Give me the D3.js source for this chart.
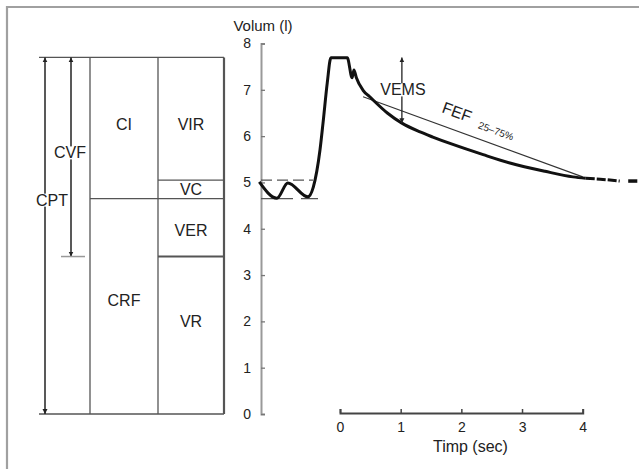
<!DOCTYPE html>
<html>
<head>
<meta charset="utf-8">
<script src="https://cdn.jsdelivr.net/npm/d3@7"></script>
<style>
  html, body { margin: 0; padding: 0; background: #fff; }
  svg { display: block; font-family: Arial, "Liberation Sans", sans-serif; }
</style>
</head>
<body>
<div id="chart"></div>
<script>
// ---- data (litres / seconds) ----
const VOL_TICKS = [0, 1, 2, 3, 4, 5, 6, 7, 8];
const TIME_TICKS = [0, 1, 2, 3, 4];

// lung volume levels
const TLC = 7.7, END_INSP = 5.05, FRC = 4.65, RV = 3.4;

// spirogram: tidal breathing then forced expiration
const curveT = [-1.33, -1.04, -0.86, -0.53, -0.44, -0.33, -0.28, -0.21, -0.15, 0.12, 0.20, 0.23, 0.27, 0.38, 0.49, 0.78, 1.02, 1.32, 1.53, 1.86, 2.36, 2.80, 3.38, 3.84, 4.05];
const curveV = [5.01, 4.66, 4.99, 4.69, 4.90, 5.70, 6.28, 7.15, 7.69, 7.69, 7.26, 7.43, 7.26, 6.99, 6.85, 6.50, 6.28, 6.09, 5.98, 5.82, 5.60, 5.42, 5.24, 5.12, 5.09];
// dashed tail of the curve
const tailT = [4.05, 4.29, 4.61];
const tailV = [5.09, 5.07, 5.03];
const tailEndT = [4.75, 4.9];
const tailEndV = [5.03, 5.03];

// FEF 25-75% chord and VEMS arrow
const fefT = [0.38, 4.0];
const fefV = [6.85, 5.12];
const vemsT = 1.02;
const vemsV = [TLC, 6.28];

// box diagram labels: [name, column, volume]
const boxLabels = [
  ["CI", 0, 6.26], ["VIR", 1, 6.26], ["VC", 1, 4.84], ["VER", 1, 3.97],
  ["CRF", 0, 2.46], ["VR", 1, 2.01]
];

// ---- layout ----
const W = 639, H = 469;
const ink = "#222", boxInk = "#555";

const svg = d3.select("#chart").append("svg")
  .attr("width", W).attr("height", H);

const defs = svg.append("defs");
defs.append("marker")
  .attr("id", "arr")
  .attr("viewBox", "0 0 10 10")
  .attr("refX", 10).attr("refY", 5)
  .attr("markerWidth", 5).attr("markerHeight", 6)
  .attr("markerUnits", "userSpaceOnUse")
  .attr("orient", "auto-start-reverse")
  .append("path").attr("d", "M0,0 L10,5 L0,10 Z").attr("fill", ink);

// frame
svg.append("path").attr("d", `M7,${H} V7 H${W}`)
  .attr("fill", "none").attr("stroke", "#a0a0a0").attr("stroke-width", 2.2);

const y = d3.scaleLinear().domain([0, 8]).range([414, 43.5]);
const x = d3.scaleLinear().domain([0, 4]).range([340, 582.7]);
const axisX = 261;

// ---- box diagram ----
const col = [90, 158, 224];
const box = svg.append("g").attr("stroke", boxInk).attr("fill", "none").attr("stroke-width", 1.3);
box.append("line").attr("x1", 39).attr("x2", col[2]).attr("y1", y(TLC)).attr("y2", y(TLC));
box.append("line").attr("x1", 39).attr("x2", col[2]).attr("y1", y(0)).attr("y2", y(0));
col.forEach((cx, i) => box.append("line")
  .attr("x1", cx).attr("x2", cx).attr("y1", y(TLC)).attr("y2", y(0))
  .attr("stroke-width", i === 2 ? 2.2 : 1.3));
box.append("line").attr("x1", col[0]).attr("x2", col[2]).attr("y1", y(FRC)).attr("y2", y(FRC));
box.append("line").attr("x1", col[1]).attr("x2", col[2]).attr("y1", y(END_INSP)).attr("y2", y(END_INSP));
box.append("line").attr("x1", col[1]).attr("x2", col[2]).attr("y1", y(RV)).attr("y2", y(RV)).attr("stroke-width", 2);

// CPT and CVF arrows
svg.append("line").attr("x1", 45).attr("x2", 45).attr("y1", y(0)).attr("y2", y(TLC))
  .attr("stroke", ink).attr("stroke-width", 1.5)
  .attr("marker-start", "url(#arr)").attr("marker-end", "url(#arr)");
svg.append("line").attr("x1", 71).attr("x2", 71).attr("y1", y(RV)).attr("y2", y(TLC))
  .attr("stroke", ink).attr("stroke-width", 1.5)
  .attr("marker-start", "url(#arr)").attr("marker-end", "url(#arr)");
svg.append("line").attr("x1", 61).attr("x2", 85).attr("y1", y(RV)).attr("y2", y(RV))
  .attr("stroke", "#999").attr("stroke-width", 1.5);

function label(g, txt, cx, cy, size, bg) {
  const t = g.append("text").attr("x", cx).attr("y", cy).attr("dy", "0.35em")
    .attr("text-anchor", "middle").attr("font-size", size).attr("fill", ink).text(txt);
  if (bg) {
    const b = t.node().getBBox();
    g.insert("rect", () => t.node())
      .attr("x", b.x - 1).attr("y", b.y + 2).attr("width", b.width + 2).attr("height", b.height - 4)
      .attr("fill", "#fff");
  }
  return t;
}

boxLabels.forEach(([name, c, v]) => {
  label(svg, name, (col[c] + col[c + 1]) / 2, y(v), 16, false);
});
label(svg.append("g"), "CVF", 70, y(5.64), 16, true);
label(svg.append("g"), "CPT", 52, y(4.62), 16, true);

// ---- axes ----
svg.append("g")
  .attr("transform", `translate(${axisX},0)`)
  .call(d3.axisLeft(y).tickValues(VOL_TICKS).tickFormat(d3.format("d"))
    .tickSizeInner(-4).tickSizeOuter(-4).tickPadding(10))
  .call(g => g.select(".domain").attr("stroke", "#999").attr("stroke-width", 2))
  .call(g => g.selectAll(".tick line").attr("stroke", "#777").attr("stroke-width", 1.3))
  .call(g => g.selectAll("text").attr("font-size", 14).attr("fill", ink).attr("font-family", null));

svg.append("g")
  .attr("transform", `translate(0,${y(0) - 1})`)
  .call(d3.axisBottom(x).tickValues(TIME_TICKS).tickFormat(d3.format("d"))
    .tickSizeInner(-4).tickSizeOuter(-4).tickPadding(9))
  .call(g => g.select(".domain").attr("stroke", "#444").attr("stroke-width", 2))
  .call(g => g.selectAll(".tick line").attr("stroke", "#444").attr("stroke-width", 1.5))
  .call(g => g.selectAll("text").attr("font-size", 14).attr("fill", ink).attr("font-family", null));

svg.append("text").attr("x", axisX + 2).attr("y", 31).attr("text-anchor", "middle")
  .attr("font-size", 15).attr("fill", ink).text("Volum (l)");
svg.append("text").attr("x", x(2.15)).attr("y", 452).attr("text-anchor", "middle")
  .attr("font-size", 16).attr("fill", ink).text("Timp (sec)");

// ---- reference lines at end-inspiration and FRC ----
svg.append("line").attr("x1", axisX).attr("x2", 313).attr("y1", y(END_INSP)).attr("y2", y(END_INSP))
  .attr("stroke", "#555").attr("stroke-width", 1.2).attr("stroke-dasharray", "11,5");
svg.append("line").attr("x1", axisX).attr("x2", 318).attr("y1", y(FRC)).attr("y2", y(FRC))
  .attr("stroke", "#555").attr("stroke-width", 1.2).attr("stroke-dasharray", "32,8");

// ---- FEF chord ----
const fefLine = d3.line().x((d, i) => x(fefT[i])).y(d => y(d));
svg.append("path").attr("d", fefLine(fefV))
  .attr("fill", "none").attr("stroke", "#333").attr("stroke-width", 1.1);

// ---- spirogram curve ----
const line = d3.line().x(d => x(d[0])).y(d => y(d[1])).curve(d3.curveMonotoneX);
svg.append("path").attr("d", line(d3.zip(curveT, curveV)))
  .attr("fill", "none").attr("stroke", "#111").attr("stroke-width", 3).attr("stroke-linejoin", "round");
svg.append("path").attr("d", line(d3.zip(tailT, tailV)))
  .attr("fill", "none").attr("stroke", "#111").attr("stroke-width", 3).attr("stroke-dasharray", "9,2");
svg.append("path").attr("d", line(d3.zip(tailEndT, tailEndV)))
  .attr("fill", "none").attr("stroke", "#111").attr("stroke-width", 3.5);

// ---- VEMS arrow ----
svg.append("line").attr("x1", x(vemsT)).attr("x2", x(vemsT))
  .attr("y1", y(vemsV[1])).attr("y2", y(vemsV[0]))
  .attr("stroke", ink).attr("stroke-width", 1.3)
  .attr("marker-start", "url(#arr)").attr("marker-end", "url(#arr)");
label(svg.append("g"), "VEMS", x(vemsT) + 1, y(7.0), 16, true);

// ---- FEF label, rotated along the chord ----
const ang = Math.atan2(y(fefV[1]) - y(fefV[0]), x(fefT[1]) - x(fefT[0])) * 180 / Math.PI;
const fx = 457, fy = 112;
svg.append("text").attr("transform", `translate(${fx},${fy}) rotate(${ang})`)
  .attr("text-anchor", "middle").attr("dy", "0.35em").attr("font-size", 16).attr("fill", ink).text("FEF");
svg.append("text").attr("transform", `translate(${fx + 39},${fy + 19}) rotate(${ang})`)
  .attr("text-anchor", "middle").attr("dy", "0.35em").attr("font-size", 10).attr("fill", ink).text("25–75%");
</script>
</body>
</html>
